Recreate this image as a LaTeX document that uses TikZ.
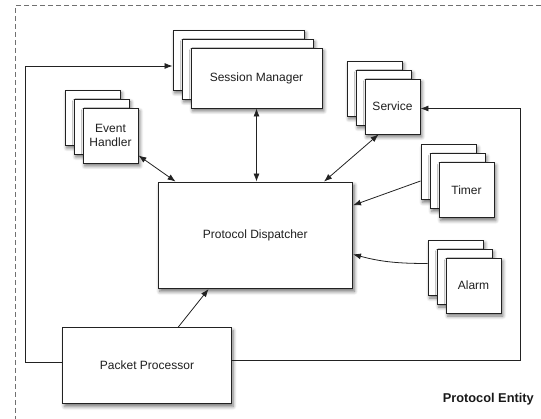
\documentclass[tikz,border=0pt]{standalone}
\usepackage{fontspec}
\setmainfont{Liberation Sans}
\usetikzlibrary{arrows.meta,shadows.blur,calc}
\definecolor{linec}{HTML}{222222}
\definecolor{framec}{HTML}{707070}
\tikzset{
  box/.style={draw=linec, line width=0.9pt, fill=white, inner sep=0pt,
    font=\fontsize{12}{14}\selectfont, text=black!88, align=center,
    blur shadow={shadow xshift=1.8pt, shadow yshift=-3pt, shadow blur radius=3.5pt, shadow blur steps=6, shadow opacity=55}},
  conn/.style={draw=linec, line width=0.8pt},
  tip/.style={-{Latex[length=8pt,width=6pt]}},
  dtip/.style={{Latex[length=8pt,width=6pt]}-{Latex[length=8pt,width=6pt]}},
  frame/.style={draw=framec, line width=0.9pt, dash pattern=on 5pt off 3pt}
}
\begin{document}
\begin{tikzpicture}[x=1pt,y=-1pt]
\useasboundingbox (0,0) rectangle (541,419);
% dashed frame
\draw[frame] (541,5.5) -- (15.5,5.5) -- (15.5,419);
% Session Manager stack
\node[box, minimum width=131pt, minimum height=60pt] (smb) at (238.5,60) {};
\node[box, minimum width=131pt, minimum height=60pt] (smm) at (247.5,69) {};
\node[box, minimum width=131pt, minimum height=60pt] (sm) at (256.5,78) {Session Manager};
% Event Handler stack
\node[box, minimum width=55pt, minimum height=55pt] (ehb) at (92.5,117.5) {};
\node[box, minimum width=55pt, minimum height=55pt] (ehm) at (101.5,126.5) {};
\node[box, minimum width=55pt, minimum height=55pt] (eh) at (110.5,135.5) {Event\\Handler};
% Service stack
\node[box, minimum width=55pt, minimum height=55pt] (svb) at (374.5,88.5) {};
\node[box, minimum width=55pt, minimum height=55pt] (svm) at (383.5,97.5) {};
\node[box, minimum width=55pt, minimum height=55pt] (svc) at (392.5,106.5) {Service};
% Timer stack
\node[box, minimum width=55pt, minimum height=55pt] (tb) at (448.5,172) {};
\node[box, minimum width=55pt, minimum height=55pt] (tm) at (457.5,181) {};
\node[box, minimum width=55pt, minimum height=55pt] (tim) at (466.5,190) {Timer};
% Alarm stack
\node[box, minimum width=55pt, minimum height=55pt] (ab) at (455.5,267.5) {};
\node[box, minimum width=55pt, minimum height=55pt] (am) at (464.5,276.5) {};
\node[box, minimum width=55pt, minimum height=55pt] (alm) at (473.5,285.5) {Alarm};
% Protocol Dispatcher
\node[box, minimum width=194.5pt, minimum height=106.5pt] (pd) at (255.3,235.3) {Protocol Dispatcher};
% Packet Processor
\node[box, minimum width=168.5pt, minimum height=76pt] (pp) at (147,365.5) {Packet Processor};
% label
\node[anchor=east, inner sep=0pt, font=\fontsize{12.8}{15}\selectfont\bfseries, text=black!90] (pe) at (534,399) {Protocol Entity};
% connectors
\draw[conn,dtip] ([yshift=8pt]eh.south east) -- ([xshift=18pt]pd.north west);
\draw[conn,dtip] (sm.south) -- (sm.south |- pd.north);
\draw[conn,dtip] ([xshift=14pt]svc.south west) -- ([xshift=-29pt]pd.north east);
\draw[conn,tip] ([yshift=-9pt]tb.west) -- ([yshift=30pt]pd.east);
\draw[conn,tip] ([yshift=4pt]ab.west) to[out=180,in=-15] ([yshift=-19pt]pd.east);
\draw[conn,tip] ([xshift=116pt]pp.north west) -- ([xshift=51pt]pd.south west);
\draw[conn,tip] ([yshift=3pt]pp.west) -- ++(-37,0) |- ([yshift=-6pt]smb.west);
\draw[conn,tip] ([yshift=5pt]pp.east) -| ([xshift=100pt,yshift=-2pt]svc.east) -- ([yshift=-2pt]svc.east);
\end{tikzpicture}
\end{document}
